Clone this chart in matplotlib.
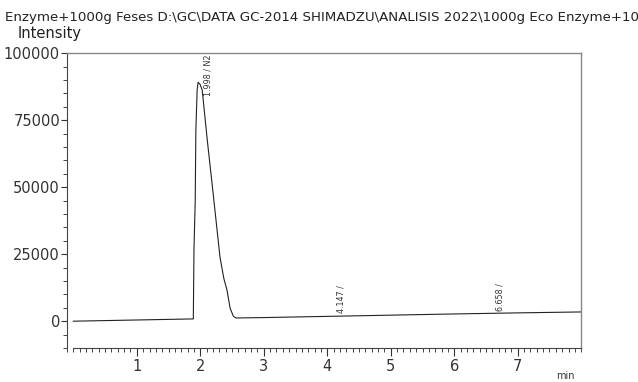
import matplotlib.pyplot as plt
from matplotlib.ticker import MultipleLocator

# chromatogram trace (time in min, intensity)
time = [0.0, 1.0, 1.89, 1.90, 1.92, 1.93, 1.95, 1.965, 1.995, 2.03, 2.11, 2.20,
        2.31, 2.37, 2.42, 2.47, 2.52, 2.56, 3.0, 4.0, 5.0, 6.0, 7.0, 8.0]
intensity = [0, 450, 850, 26500, 45100, 71200, 86200, 89100, 88400, 86200, 67500, 48100,
             23900, 16000, 11600, 4800, 1900, 1200, 1350, 1800, 2250, 2700, 3100, 3450]

peak_times = [1.998, 4.147, 6.658]
peak_labels = ["1.998 / N2", "4.147 /", "6.658 /"]
peak_label_y = [84000, 3200, 3800]

# the scan cuts the title off at the right edge
title = r"Enzyme+1000g Feses D:\GC\DATA GC-2014 SHIMADZU\ANALISIS 2022\1000g Eco Enzyme+10"

fig = plt.figure(figsize=(6.38, 3.82), dpi=100)
ax = fig.add_axes([0.105, 0.089, 0.806, 0.772])

ax.plot(time, intensity, color="#222222", lw=0.8)

for t, lab, y in zip(peak_times, peak_labels, peak_label_y):
    dx = 0.13 if y > 50000 else 0.07
    ax.text(t + dx, y, lab, rotation=90, fontsize=5.8, color="#333333",
            ha="center", va="bottom")

ax.set_xlim(-0.1, 8)
ax.set_ylim(-10000, 100000)
ax.spines["bottom"].set_bounds(0, 8)
ax.set_xticks([1, 2, 3, 4, 5, 6, 7])
ax.set_yticks([0, 25000, 50000, 75000, 100000])
ax.xaxis.set_minor_locator(MultipleLocator(0.1))
ax.yaxis.set_minor_locator(MultipleLocator(5000))
ax.tick_params(axis="both", which="major", labelsize=10.5, colors="#333333", width=0.8)
ax.tick_params(axis="x", which="major", length=6, pad=2)
ax.tick_params(axis="y", which="major", length=4.5, pad=0.5)
ax.tick_params(axis="both", which="minor", length=3, width=0.7, colors="#444444")

for s in ["top", "right"]:
    ax.spines[s].set_color("#888888")
    ax.spines[s].set_linewidth(1.0)
for s in ["left", "bottom"]:
    ax.spines[s].set_color("#444444")
    ax.spines[s].set_linewidth(0.8)

fig.text(0.008, 0.972, title, fontsize=9.6, color="#222222", va="top", ha="left")
fig.text(0.028, 0.932, "Intensity", fontsize=10.5, color="#222222", va="top", ha="left")
fig.text(0.872, 0.003, "min", fontsize=7, color="#333333", va="bottom", ha="left")

fig.savefig("out.png", dpi=100)
